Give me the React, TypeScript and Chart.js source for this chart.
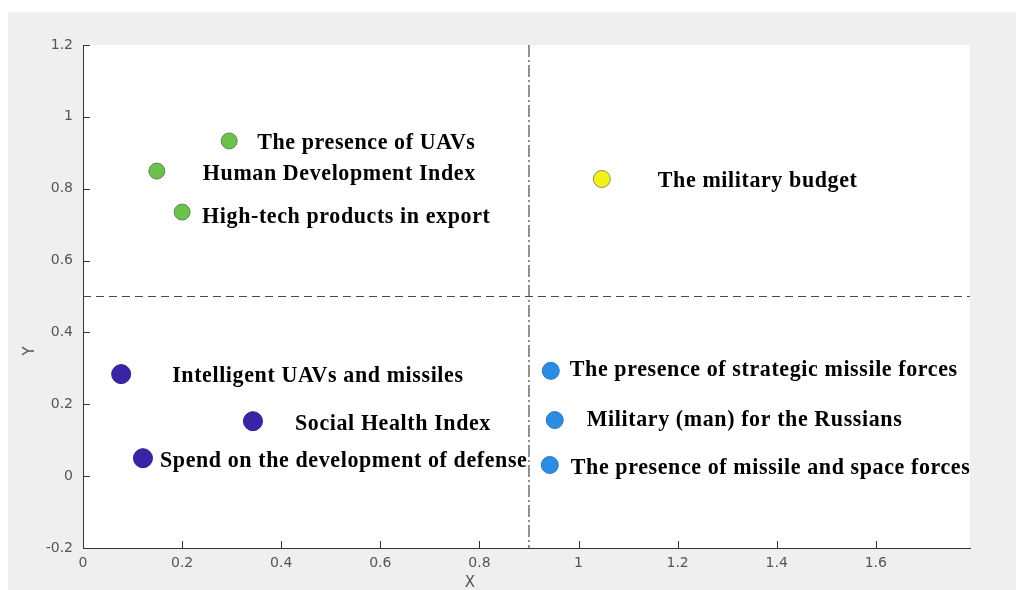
import React, { useEffect, useRef } from 'react';
import { Chart, registerables } from 'chart.js';

Chart.register(...registerables);

// ---- data ----
const pointLabels = [
  'The presence of UAVs',
  'Human Development Index',
  'High-tech products in export',
  'The military budget',
  'Intelligent UAVs and missiles',
  'Social Health Index',
  'Spend on the development of defense',
  'The presence of strategic missile forces',
  'Military (man) for the Russians',
  'The presence of missile and space forces',
];
const xValues = [0.295, 0.149, 0.200, 1.047, 0.077, 0.343, 0.121, 0.944, 0.952, 0.942];
const yValues = [0.933, 0.849, 0.735, 0.827, 0.284, 0.153, 0.050, 0.293, 0.156, 0.031];
const groupOf = [0, 0, 0, 1, 2, 2, 2, 3, 3, 3];

const xTicks = [0, 0.2, 0.4, 0.6, 0.8, 1, 1.2, 1.4, 1.6];
const yTicks = [-0.2, 0, 0.2, 0.4, 0.6, 0.8, 1, 1.2];
const xMin = 0;
const xMax = 1.79;
const yMin = -0.2;
const yMax = 1.2;
const splitX = 0.9;
const splitY = 0.5;
const xTitle = 'X';
const yTitle = 'Y';

// ---- styles ----
const groupStyles = [
  { fill: '#6cc04c', border: '#5e8a55', radius: 8 },
  { fill: '#f2f21a', border: '#8f8f55', radius: 8.5 },
  { fill: '#3a24a6', border: '#2e1d85', radius: 9.5 },
  { fill: '#2a8ce2', border: '#2a78c0', radius: 8.5 },
];
// label offsets in pixels from the marker centre
const labelOffsets: [number, number][] = [
  [28, 2], [46, 3], [20, 5], [56, 2], [51, 2],
  [42, 3], [17, 3], [19, -1], [32, 0], [21, 3],
];

const fmt = (v: number) => String(Number(v.toFixed(1)));

const decorPlugin = {
  id: 'decor',
  beforeDraw(chart: any) {
    const { ctx, chartArea: a } = chart;
    ctx.save();
    ctx.fillStyle = '#ffffff';
    ctx.fillRect(0, 0, chart.width, chart.height);
    ctx.fillStyle = '#efefef';
    ctx.fillRect(8, 12, chart.width - 8, chart.height - 12);
    ctx.fillStyle = '#ffffff';
    ctx.fillRect(a.left, a.top, a.right - a.left, a.bottom - a.top);
    ctx.restore();
  },
  beforeDatasetsDraw(chart: any) {
    const { ctx, chartArea: a, scales } = chart;
    const px = scales.x.getPixelForValue(splitX);
    const py = scales.y.getPixelForValue(splitY);
    ctx.save();
    ctx.strokeStyle = '#4a4a4a';
    ctx.lineWidth = 1.2;
    ctx.setLineDash([8, 5]);
    ctx.beginPath();
    ctx.moveTo(a.left, py);
    ctx.lineTo(a.right, py);
    ctx.stroke();
    ctx.setLineDash([12, 3, 2, 3]);
    ctx.beginPath();
    ctx.moveTo(px, a.top);
    ctx.lineTo(px, a.bottom);
    ctx.stroke();
    ctx.restore();
  },
  afterDatasetsDraw(chart: any) {
    const { ctx } = chart;
    ctx.save();
    ctx.fillStyle = '#000000';
    ctx.font = 'bold 22px "Liberation Serif", "Times New Roman", serif';
    (ctx as any).letterSpacing = '0.6px';
    ctx.textAlign = 'left';
    ctx.textBaseline = 'middle';
    chart.data.datasets.forEach((ds: any, di: number) => {
      const meta = chart.getDatasetMeta(di);
      ds.idx.forEach((pi: number, j: number) => {
        const el = meta.data[j];
        const [dx, dy] = labelOffsets[pi];
        ctx.save();
        ctx.translate(el.x + dx, el.y + dy);
        ctx.scale(1, 1.08);
        ctx.fillText(pointLabels[pi], 0, 0);
        ctx.restore();
      });
    });
    ctx.restore();
  },
  afterDraw(chart: any) {
    const { ctx, chartArea: a, scales } = chart;
    ctx.save();
    ctx.strokeStyle = '#333333';
    ctx.lineWidth = 1;
    ctx.beginPath();
    xTicks.forEach((v) => {
      const p = Math.round(scales.x.getPixelForValue(v)) + 0.5;
      ctx.moveTo(p, a.bottom);
      ctx.lineTo(p, a.bottom - 7);
    });
    yTicks.forEach((v) => {
      const p = Math.round(scales.y.getPixelForValue(v)) + 0.5;
      ctx.moveTo(a.left, p);
      ctx.lineTo(a.left + 7, p);
    });
    ctx.stroke();
    ctx.fillStyle = '#555555';
    ctx.font = '15px "DejaVu Sans", sans-serif';
    ctx.textAlign = 'center';
    ctx.textBaseline = 'middle';
    ctx.fillText(xTitle, 470, 583);
    ctx.translate(30, 351);
    ctx.rotate(-Math.PI / 2);
    ctx.fillText(yTitle, 0, 0);
    ctx.restore();
  },
};

export default function App() {
  const ref = useRef<HTMLCanvasElement | null>(null);
  useEffect(() => {
    if (!ref.current) return;
    const datasets = groupStyles.map((g, gi) => {
      const idx = groupOf.map((grp, i) => (grp === gi ? i : -1)).filter((i) => i >= 0);
      return {
        label: 'group' + gi,
        idx,
        data: idx.map((i) => ({ x: xValues[i], y: yValues[i] })),
        backgroundColor: g.fill,
        borderColor: g.border,
        borderWidth: 1,
        pointRadius: g.radius,
        pointHoverRadius: g.radius,
      };
    });
    const tickFont = { family: '"DejaVu Sans", sans-serif', size: 14 };
    const chart = new Chart(ref.current, {
      type: 'scatter',
      data: { datasets } as any,
      options: {
        animation: false,
        responsive: false,
        devicePixelRatio: 1,
        layout: { padding: { top: 45, right: 46, left: 0, bottom: 0 } },
        plugins: { legend: { display: false }, tooltip: { enabled: false } },
        scales: {
          x: {
            type: 'linear',
            min: xMin,
            max: xMax,
            afterBuildTicks: (s: any) => { s.ticks = xTicks.map((v) => ({ value: v })); },
            afterFit: (s: any) => { s.height = 42; },
            grid: { display: false, drawTicks: false },
            border: { display: true, color: '#333333', width: 1 },
            ticks: { color: '#555555', font: tickFont, padding: 7, maxRotation: 0, callback: (v: any) => fmt(Number(v)) },
          },
          y: {
            type: 'linear',
            min: yMin,
            max: yMax,
            afterBuildTicks: (s: any) => { s.ticks = yTicks.map((v) => ({ value: v })); },
            afterFit: (s: any) => { s.width = 83; },
            grid: { display: false, drawTicks: false },
            border: { display: true, color: '#333333', width: 1 },
            ticks: { color: '#555555', font: tickFont, padding: 10, callback: (v: any) => fmt(Number(v)) },
          },
        },
      } as any,
      plugins: [decorPlugin],
    });
    return () => chart.destroy();
  }, []);
  return (
    <div style={{ position: 'absolute', left: 0, top: 0, width: 1016, height: 590 }}>
      <canvas ref={ref} width={1016} height={590} />
    </div>
  );
}
